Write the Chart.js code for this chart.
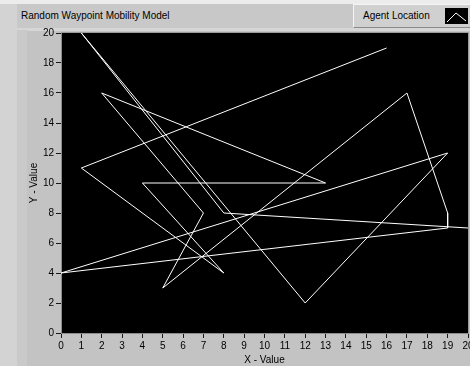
<!DOCTYPE html>
<html>
<head>
<meta charset="utf-8">
<script src="https://cdn.jsdelivr.net/npm/chart.js@4.4.0/dist/chart.umd.min.js"></script>
<style>
  html, body { margin: 0; padding: 0; }
  body {
    width: 470px; height: 366px; overflow: hidden; position: relative;
    background: #c3c3c3;
    font-family: 'Liberation Sans', Arial, sans-serif;
  }
  .top-line { position: absolute; left: 0; top: 0; width: 470px; height: 4px; background: #ececec; }
  .left-strip { position: absolute; left: 0; top: 4px; width: 17px; height: 362px; background: #d3d3d3; }
  .left-strip2 { position: absolute; left: 17px; top: 30px; width: 10px; height: 336px; background: #c9c9c9; }
  .titlebar { position: absolute; left: 0; top: 4px; width: 470px; height: 24px; background: #c8c8c8; }
  .titlebar-edge { position: absolute; left: 0; top: 28px; width: 470px; height: 3px; background: #d6d6d6; }
  .title { position: absolute; left: 21px; top: 10px; font-size: 10px; color: #000; white-space: nowrap; }
  .legend {
    position: absolute; left: 353px; top: 4px; width: 116px; height: 22px;
    background: #d0d0d0; border-top: 1px solid #f4f4f4; border-left: 1px solid #f4f4f4;
    border-bottom: 1px solid #8a8a8a;
  }
  .legend span { position: absolute; left: 9px; top: 5px; font-size: 10px; color: #000; white-space: nowrap; }
  .legend svg { position: absolute; left: 91px; top: 3px; }
  canvas { position: absolute; left: 0; top: 0; }
</style>
</head>
<body>
<div class="top-line"></div>
<div class="titlebar"></div>
<div class="titlebar-edge"></div>
<div class="left-strip"></div>
<div class="left-strip2"></div>
<div class="title">Random Waypoint Mobility Model</div>
<div class="legend">
  <span>Agent Location</span>
  <svg width="23" height="16" viewBox="0 0 23 16">
    <rect x="0" y="0" width="23" height="16" fill="#000"/>
    <polyline points="2,14 11,5 21,13" fill="none" stroke="#fff" stroke-width="1"/>
  </svg>
</div>
<canvas id="plot" width="470" height="366"></canvas>
<script>
// waypoints visited by the agent, in order
const wayX = [16, 1, 8, 4, 13, 2, 7, 5, 17, 19, 19, 0, 19, 12, 1, 8, 20];
const wayY = [19, 11, 4, 10, 10, 16, 8, 3, 16, 8, 7, 4, 12, 2, 20, 8, 7];

const xMin = 0, xMax = 20, xStep = 1;
const yMin = 0, yMax = 20, yStep = 2;

const points = wayX.map((x, i) => ({ x: x, y: wayY[i] }));

// black plot area with a thin frame, like the LabVIEW graph
const plotBackground = {
  id: 'plotBackground',
  beforeDraw(chart) {
    const { ctx, chartArea: a } = chart;
    ctx.save();
    ctx.fillStyle = '#000';
    ctx.fillRect(a.left, a.top, a.right - a.left, a.bottom - a.top);
    ctx.restore();
  },
  afterDraw(chart) {
    const { ctx, chartArea: a } = chart;
    ctx.save();
    ctx.strokeStyle = '#9c9c9c';
    ctx.lineWidth = 1;
    ctx.beginPath();
    ctx.moveTo(a.left, a.top - 0.5);
    ctx.lineTo(a.right + 0.5, a.top - 0.5);
    ctx.lineTo(a.right + 0.5, a.bottom);
    ctx.stroke();
    ctx.restore();
  }
};

const tickFont = { family: "'Liberation Sans', Arial, sans-serif", size: 10 };

new Chart(document.getElementById('plot'), {
  type: 'scatter',
  data: {
    datasets: [{
      label: 'Agent Location',
      data: points,
      showLine: true,
      borderColor: '#ffffff',
      borderWidth: 1,
      pointRadius: 0,
      tension: 0
    }]
  },
  options: {
    responsive: false,
    animation: false,
    layout: { padding: { top: 33, right: 2, left: 0, bottom: 0 } },
    plugins: {
      legend: { display: false },
      tooltip: { enabled: false }
    },
    scales: {
      x: {
        type: 'linear',
        min: xMin,
        max: xMax,
        ticks: { stepSize: xStep, color: '#000', font: tickFont, padding: 2, maxRotation: 0, autoSkip: false },
        grid: { drawOnChartArea: false, tickLength: 5, tickColor: '#1a1a1a' },
        border: { color: '#8c8c8c' },
        title: { display: true, text: 'X - Value', color: '#000', font: tickFont, padding: { top: 0, bottom: 0 } },
        afterFit(scale) {
          scale.height = 33;
          scale.paddingLeft = 0;
          scale.paddingRight = 0;
        }
      },
      y: {
        min: yMin,
        max: yMax,
        ticks: { stepSize: yStep, color: '#000', font: tickFont, padding: 2 },
        grid: { drawOnChartArea: false, tickLength: 5, tickColor: '#1a1a1a' },
        border: { color: '#8c8c8c' },
        title: { display: true, text: 'Y - Value', color: '#000', font: tickFont, padding: { top: 28, bottom: 0 } },
        afterFit(scale) {
          scale.width = 61;
        }
      }
    }
  },
  plugins: [plotBackground]
});
</script>
</body>
</html>
